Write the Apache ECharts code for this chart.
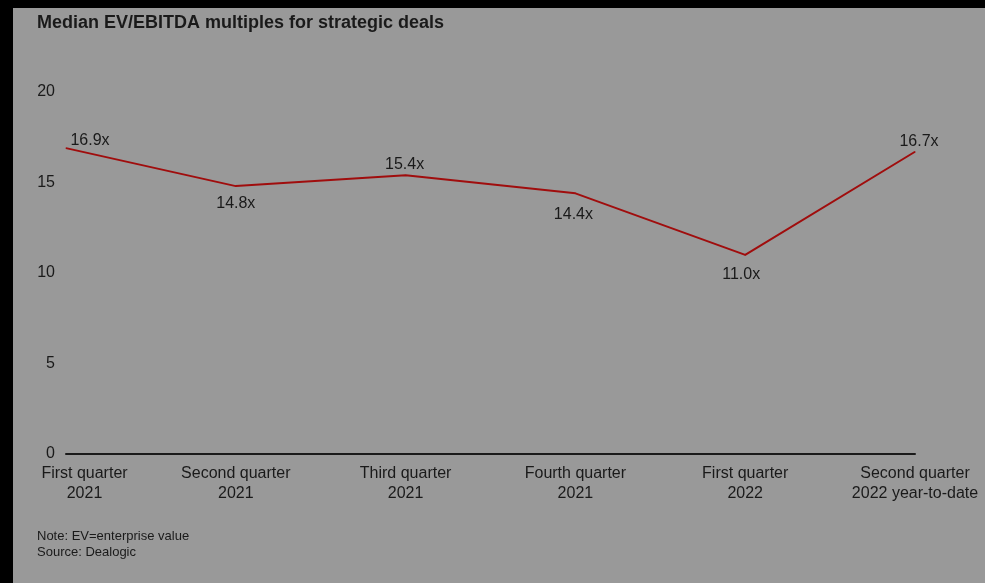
<!DOCTYPE html>
<html>
<head>
<meta charset="utf-8">
<script src="https://cdn.jsdelivr.net/npm/echarts@6/dist/echarts.min.js"></script>
<style>
html,body{margin:0;padding:0;background:#999999;}
#c{width:985px;height:583px;}
</style>
</head>
<body>
<div id="c"></div>
<script>
const categories = ["First quarter\n2021","Second quarter\n2021","Third quarter\n2021","Fourth quarter\n2021","First quarter\n2022","Second quarter\n2022 year-to-date"];
const values = [16.9, 14.8, 15.4, 14.4, 11.0, 16.7];
const labelSides = ["top","bottom","top","bottom","bottom","top"];
const yTicks = [0, 5, 10, 15, 20];
const titleText = "Median EV/EBITDA multiples for strategic deals";
const noteLines = ["Note: EV=enterprise value", "Source: Dealogic"];

const font = "Liberation Sans, Arial, sans-serif";
const txt = "#1a1a1a";
const labelOffsets = [[24,6],[0,4],[-1,3],[-2,8],[-4,6],[4,3]];

const chart = echarts.init(document.getElementById('c'));
chart.setOption({
  backgroundColor: '#999999',
  animation: false,
  title: {
    text: titleText,
    left: 32, top: 9,
    textStyle: {fontFamily: font, fontSize: 18, fontWeight: 'bold', color: txt}
  },
  graphic: [
    {type:'rect', shape:{x:0,y:0,width:985,height:8}, style:{fill:'#000'}, z:100},
    {type:'rect', shape:{x:0,y:0,width:13,height:583}, style:{fill:'#000'}, z:100},
    {type:'text', left:37, top:528, style:{text: noteLines.join('\n'), font: '13px ' + font, fill: txt, lineHeight: 16}}
  ],
  grid: {left: 66, right: 70, top: 92, bottom: 129, containLabel: false},
  xAxis: {
    type: 'category',
    boundaryGap: false,
    data: categories.map((c, i) => i === 0 ? {value: c, textStyle: {padding: [0,0,0,37]}} : c),
    axisLine: {show: true, lineStyle: {color: '#1a1a1a', width: 2}},
    axisTick: {show: false},
    axisLabel: {
      interval: 0, margin: 10, fontFamily: font, fontSize: 16, color: txt, lineHeight: 20
    },
    splitLine: {show: false}
  },
  yAxis: {
    type: 'value',
    min: yTicks[0], max: yTicks[yTicks.length-1], interval: 5,
    axisLine: {show: false},
    axisTick: {show: false},
    splitLine: {show: false},
    axisLabel: {margin: 11, fontFamily: font, fontSize: 16, color: txt, padding: [0,0,4,0]}
  },
  series: [{
    type: 'line',
    data: values.map((v, i) => ({
      value: v,
      label: {show: true, position: labelSides[i], offset: labelOffsets[i]}
    })),
    symbol: 'circle',
    symbolSize: 1,
    showSymbol: true,
    itemStyle: {color: '#a00d0d'},
    lineStyle: {color: '#a00d0d', width: 2},
    label: {
      show: true, fontFamily: font, fontSize: 16, color: txt,
      formatter: p => p.value.toFixed(1) + 'x'
    }
  }]
});
</script>
</body>
</html>
